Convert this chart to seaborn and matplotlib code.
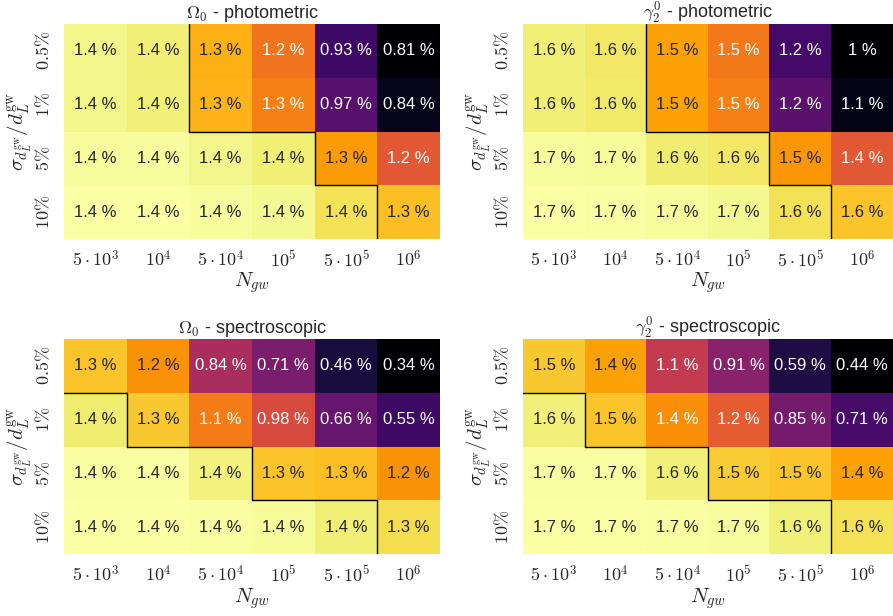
import numpy as np
import matplotlib
matplotlib.use('Agg')
import matplotlib.pyplot as plt
import seaborn as sns

sns.set_theme(style='white')
plt.rcParams['font.family'] = ['Liberation Sans', 'DejaVu Sans']
plt.rcParams['mathtext.fontset'] = 'cm'

# axes categories
n_gw = [r'$5\cdot10^3$', r'$10^4$', r'$5\cdot10^4$', r'$10^5$', r'$5\cdot10^5$', r'$10^6$']
sigma_dl = [r'$0.5\%$', r'$1\%$', r'$5\%$', r'$10\%$']

# relative errors in % (rows: sigma_dL, cols: N_gw)
omega_photo = [[1.421, 1.409, 1.327, 1.245, 0.930, 0.810],
               [1.421, 1.412, 1.333, 1.264, 0.968, 0.838],
               [1.434, 1.434, 1.421, 1.409, 1.300, 1.200],
               [1.440, 1.440, 1.434, 1.427, 1.390, 1.345]]
gamma_photo = [[1.648, 1.640, 1.546, 1.488, 1.174, 1.040],
               [1.648, 1.642, 1.546, 1.500, 1.206, 1.066],
               [1.674, 1.670, 1.647, 1.640, 1.533, 1.437],
               [1.680, 1.677, 1.674, 1.667, 1.629, 1.590]]
omega_spec = [[1.286, 1.176, 0.840, 0.710, 0.460, 0.340],
              [1.380, 1.297, 1.121, 0.978, 0.659, 0.550],
              [1.4345, 1.4345, 1.396, 1.286, 1.275, 1.176],
              [1.440, 1.440, 1.4345, 1.4235, 1.385, 1.345]]
gamma_spec = [[1.536, 1.435, 1.095, 0.910, 0.591, 0.440],
              [1.643, 1.524, 1.385, 1.234, 0.850, 0.710],
              [1.694, 1.694, 1.645, 1.5425, 1.524, 1.435],
              [1.700, 1.700, 1.694, 1.687, 1.643, 1.599]]

# first column of the "improved" region in each row
cut_photo = [2, 2, 4, 5]
cut_spec = [0, 1, 3, 5]

panels = [(omega_photo, cut_photo, r'$\Omega_0$ - photometric'),
          (gamma_photo, cut_photo, r'$\gamma_2^0$ - photometric'),
          (omega_spec, cut_spec, r'$\Omega_0$ - spectroscopic'),
          (gamma_spec, cut_spec, r'$\gamma_2^0$ - spectroscopic')]

positions = [[0.0717, 0.612, 0.421, 0.349],
             [0.5857, 0.612, 0.414, 0.349],
             [0.0717, 0.1006, 0.421, 0.349],
             [0.5857, 0.1006, 0.414, 0.349]]

fig = plt.figure(figsize=(8.93, 6.16), dpi=100)

for (vals, cut, title), pos in zip(panels, positions):
    ax = fig.add_axes(pos)
    vals = np.array(vals)
    labels = np.array([['%s %%' % format(v, '.2g') for v in row] for row in vals])
    sns.heatmap(vals, ax=ax, cmap='inferno', cbar=False,
                annot=labels, fmt='', annot_kws={'fontsize': 12},
                xticklabels=n_gw, yticklabels=sigma_dl)
    ax.set_title(title, fontsize=13, pad=4)
    ax.set_xlabel(r'$N_{gw}$', fontsize=15, labelpad=0)
    ax.set_ylabel(r'$\sigma_{d_L^{\rm gw}}/d_L^{\rm gw}$', fontsize=15, labelpad=0)
    ax.tick_params(axis='x', labelsize=13, rotation=0, pad=2)
    ax.tick_params(axis='y', labelsize=13, pad=2)
    for lab in ax.get_yticklabels():
        lab.set_rotation(90)
        lab.set_va('center')

    # step boundary of the region
    for i, c in enumerate(cut):
        if c > 0:
            ax.plot([c, c], [i, i + 1], color='black', lw=1.0)
        if i + 1 < len(cut):
            ax.plot([c, cut[i + 1]], [i + 1, i + 1], color='black', lw=1.0)

fig.savefig('out.png', dpi=100)
